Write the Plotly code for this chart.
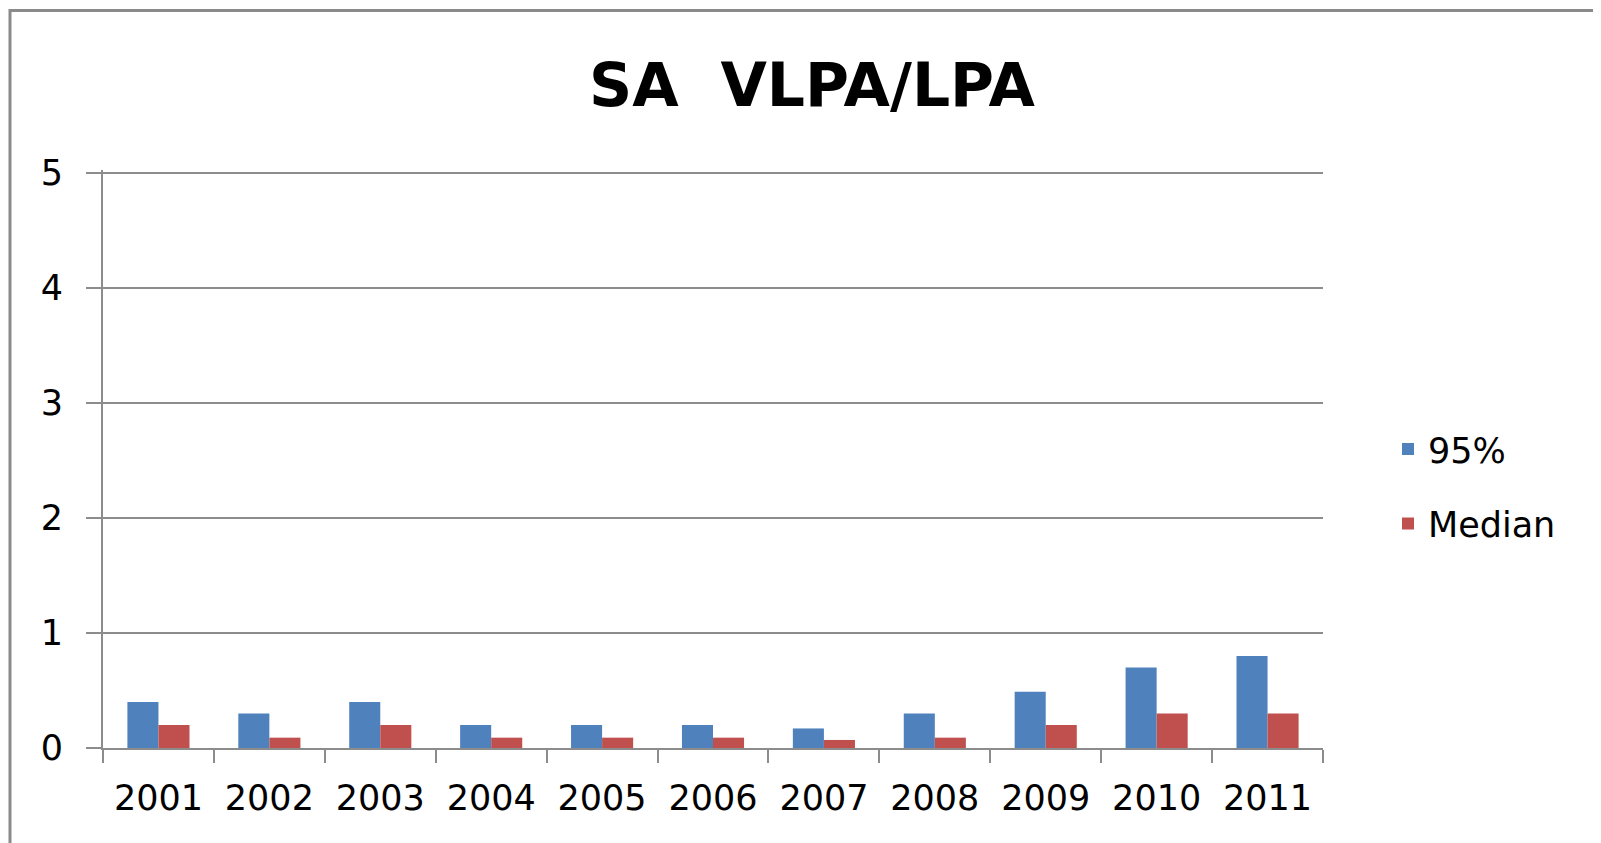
import plotly.graph_objects as go

years = ["2001", "2002", "2003", "2004", "2005", "2006", "2007", "2008", "2009", "2010", "2011"]
p95 = [0.4, 0.3, 0.4, 0.2, 0.2, 0.2, 0.17, 0.3, 0.49, 0.7, 0.8]
median = [0.2, 0.09, 0.2, 0.09, 0.09, 0.09, 0.07, 0.09, 0.2, 0.3, 0.3]
y_ticks = [0, 1, 2, 3, 4, 5]

W, H = 1601, 843
OFF = 8  # page body margin
YMAX = 5.025
L, R, T5, B = 103 - OFF, 1323 - OFF, 172.6 - OFF, 748.5 - OFF
T = B - (B - T5) * YMAX / 5.0  # so that y=5 lands on T5

fig = go.Figure()
fig.add_trace(go.Bar(x=years, y=p95, name="95%", marker_color="#4F81BD",
                     marker_line_width=0, legendgroup="a"))
fig.add_trace(go.Bar(x=years, y=median, name="Median", marker_color="#C0504D",
                     marker_line_width=0, legendgroup="b"))

def px2x(px):
    return (px - OFF - L) / (R - L)

def px2y(py):
    return (B - (py - OFF)) / (B - T)

fig.update_layout(
    width=W, height=H,
    margin=dict(l=L, r=W - R, t=T, b=H - B, pad=0),
    paper_bgcolor="white", plot_bgcolor="white",
    barmode="group", bargap=0.44, bargroupgap=0,
    title=dict(text="SA\u00a0 VLPA/LPA", x=px2x(812), xref="paper", xanchor="center",
               y=1 - (85 - OFF) / H, yanchor="middle",
               font=dict(family="DejaVu Sans", size=60, color="black", weight="bold")),
    font=dict(family="DejaVu Sans", color="black"),
    legend=dict(x=px2x(1388), xanchor="left", y=px2y(486.5), yanchor="middle",
                font=dict(size=35, family="DejaVu Sans"), traceorder="grouped",
                tracegroupgap=26, bgcolor="rgba(0,0,0,0)"),
    showlegend=True,
    shapes=[dict(type="rect", xref="paper", yref="paper",
                 x0=px2x(10), x1=px2x(1660), y0=px2y(900), y1=px2y(10),
                 line=dict(color="#8a8a8a", width=3), fillcolor="rgba(0,0,0,0)", layer="below")],
)

fig.update_xaxes(type="category", showline=True, linecolor="#8c8c8c", linewidth=2,
                 ticks="outside", tickson="boundaries", ticklen=13, tickcolor="#8c8c8c",
                 tickwidth=2, showgrid=False, tickfont=dict(size=35),
                 ticklabelstandoff=18)
fig.update_yaxes(range=[0, YMAX], tickvals=y_ticks, showline=True, linecolor="#8c8c8c",
                 linewidth=2, ticks="outside", ticklen=15, tickcolor="#8c8c8c", tickwidth=2,
                 showgrid=True, gridcolor="#8c8c8c", gridwidth=1.5, zeroline=False,
                 tickfont=dict(size=35), ticklabelstandoff=16)

fig.write_html("out.html")
